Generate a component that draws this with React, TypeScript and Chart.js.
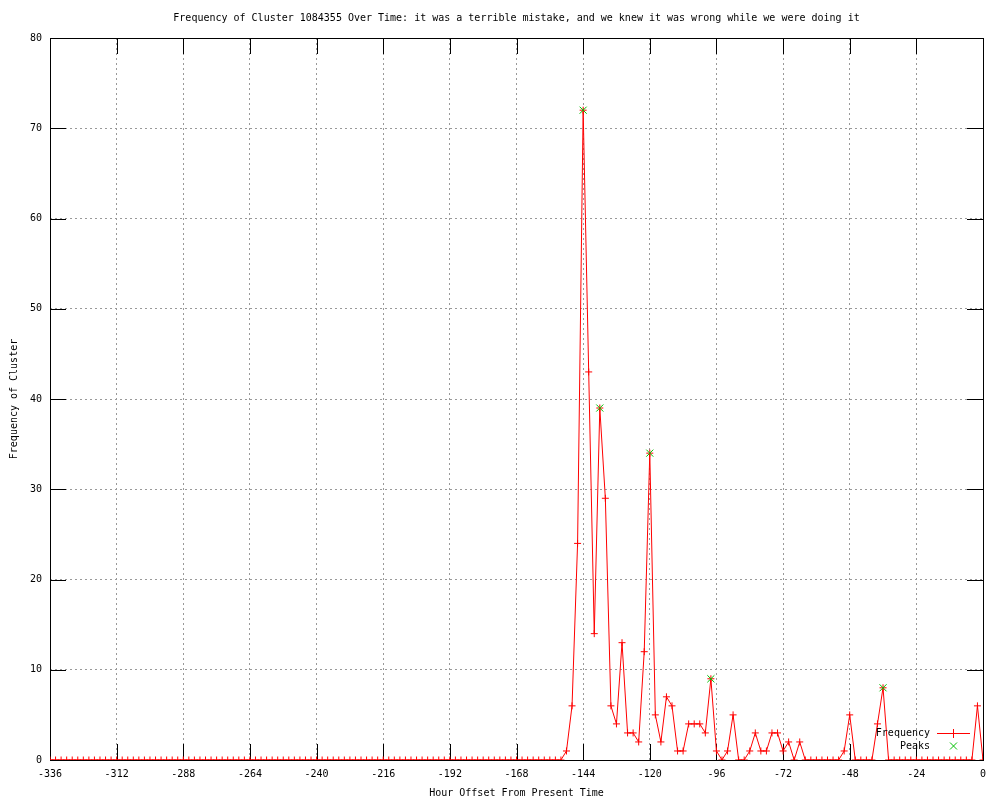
import React, { useEffect, useRef } from "react";
import { Chart, registerables } from "chart.js";

Chart.register(...registerables);

const TITLE =
  "Frequency of Cluster 1084355 Over Time: it was a terrible mistake, and we knew it was wrong while we were doing it";
const X_TITLE = "Hour Offset From Present Time";
const Y_TITLE = "Frequency of Cluster";

const hours = [
  -336, -334, -332, -330, -328, -326, -324, -322, -320, -318, -316, -314, -312, -310, -308, -306,
  -304, -302, -300, -298, -296, -294, -292, -290, -288, -286, -284, -282, -280, -278, -276, -274,
  -272, -270, -268, -266, -264, -262, -260, -258, -256, -254, -252, -250, -248, -246, -244, -242,
  -240, -238, -236, -234, -232, -230, -228, -226, -224, -222, -220, -218, -216, -214, -212, -210,
  -208, -206, -204, -202, -200, -198, -196, -194, -192, -190, -188, -186, -184, -182, -180, -178,
  -176, -174, -172, -170, -168, -166, -164, -162, -160, -158, -156, -154, -152,
  -150, -148, -146, -144, -142, -140, -138, -136, -134, -132, -130, -128, -126, -124, -122, -120,
  -118, -116, -114, -112, -110, -108, -106, -104, -102, -100, -98, -96, -94, -92, -90, -88,
  -86, -84, -82, -80, -78, -76, -74, -72, -70, -68, -66, -64, -62, -60, -58, -56,
  -54, -52, -50, -48, -46, -44, -42, -40, -38, -36, -34, -32, -30, -28, -26, -24,
  -22, -20, -18, -16, -14, -12, -10, -8, -6, -4, -2, 0,
];

const frequency = [
  0, 0, 0, 0, 0, 0, 0, 0, 0, 0, 0, 0, 0, 0, 0, 0,
  0, 0, 0, 0, 0, 0, 0, 0, 0, 0, 0, 0, 0, 0, 0, 0,
  0, 0, 0, 0, 0, 0, 0, 0, 0, 0, 0, 0, 0, 0, 0, 0,
  0, 0, 0, 0, 0, 0, 0, 0, 0, 0, 0, 0, 0, 0, 0, 0,
  0, 0, 0, 0, 0, 0, 0, 0, 0, 0, 0, 0, 0, 0, 0, 0,
  0, 0, 0, 0, 0, 0, 0, 0, 0, 0, 0, 0, 0,
  1, 6, 24, 72, 43, 14, 39, 29, 6, 4, 13, 3, 3, 2, 12, 34,
  5, 2, 7, 6, 1, 1, 4, 4, 4, 3, 9, 1, 0, 1, 5, 0,
  0, 1, 3, 1, 1, 3, 3, 1, 2, 0, 2, 0, 0, 0, 0, 0,
  0, 0, 1, 5, 0, 0, 0, 0, 4, 8, 0, 0, 0, 0, 0, 0,
  0, 0, 0, 0, 0, 0, 0, 0, 0, 0, 6, 0,
];

const peakHours = [-144, -138, -120, -98, -36];
const peakValues = [72, 39, 34, 9, 8];

const xTickValues = [-336, -312, -288, -264, -240, -216, -192, -168, -144, -120, -96, -72, -48, -24, 0];
const yTickValues = [0, 10, 20, 30, 40, 50, 60, 70, 80];

const FONT = "DejaVu Sans Mono";
const RED = "#ff0000";
const GREEN = "#00c000";

const framePlugin = {
  id: "gnuFrame",
  beforeDatasetsDraw(chart: any) {
    const { ctx, chartArea, scales } = chart;
    const { left, right, top, bottom } = chartArea;
    const x = scales.x;
    const y = scales.y;
    const L = 16;
    ctx.save();
    ctx.fillStyle = "#000";
    for (const t of xTickValues) {
      const px = Math.round(x.getPixelForValue(t));
      ctx.fillRect(px, Math.round(bottom) - L, 1, L);
      ctx.fillRect(px, Math.round(top), 1, L);
    }
    for (const t of yTickValues) {
      const py = Math.round(y.getPixelForValue(t));
      ctx.fillRect(Math.round(left), py, L, 1);
      ctx.fillRect(Math.round(right) - L, py, L, 1);
    }
    ctx.strokeStyle = "#000";
    ctx.lineWidth = 1;
    ctx.strokeRect(Math.round(left) + 0.5, Math.round(top) + 0.5, Math.round(right - left), Math.round(bottom - top));
    ctx.restore();
  },
  afterDraw(chart: any) {
    const { ctx, chartArea } = chart;
    const { left, right } = chartArea;
    ctx.save();
    ctx.font = `10px "${FONT}"`;
    ctx.fillStyle = "#000";
    ctx.textAlign = "center";
    ctx.textBaseline = "middle";
    ctx.fillText(TITLE, (left + right) / 2, 18);

    // legend (inside plot, bottom right)
    const textRight = 930;
    const rows = [
      { label: "Frequency", y: 733 },
      { label: "Peaks", y: 746 },
    ];
    ctx.textAlign = "right";
    for (const r of rows) ctx.fillText(r.label, textRight, r.y);
    // Frequency sample: red line with + marker
    ctx.fillStyle = RED;
    ctx.fillRect(937, 733, 33, 1);
    ctx.fillRect(953, 729, 1, 9);
    // Peaks sample: green x
    ctx.strokeStyle = GREEN;
    ctx.lineWidth = 1;
    ctx.beginPath();
    ctx.moveTo(950, 742.5);
    ctx.lineTo(957, 749.5);
    ctx.moveTo(957, 742.5);
    ctx.lineTo(950, 749.5);
    ctx.stroke();
    ctx.restore();
  },
};

export default function App() {
  const canvasRef = useRef<HTMLCanvasElement | null>(null);

  useEffect(() => {
    const canvas = canvasRef.current;
    if (!canvas) return;
    Chart.defaults.font.family = FONT;
    Chart.defaults.font.size = 10;
    Chart.defaults.color = "#000";

    const freqPoints = hours.map((h, i) => ({ x: h, y: frequency[i] }));
    const peakPoints = peakHours.map((h, i) => ({ x: h, y: peakValues[i] }));

    const chart = new Chart(canvas, {
      type: "line",
      data: {
        datasets: [
          {
            label: "Frequency",
            data: freqPoints,
            borderColor: RED,
            backgroundColor: RED,
            borderWidth: 1,
            tension: 0,
            fill: false,
            pointStyle: "cross",
            pointRadius: 3.5,
            pointBorderColor: RED,
            pointBorderWidth: 1,
            order: 2,
          },
          {
            label: "Peaks",
            data: peakPoints,
            showLine: false,
            borderColor: GREEN,
            backgroundColor: GREEN,
            pointStyle: "crossRot",
            pointRadius: 5,
            pointBorderColor: GREEN,
            pointBorderWidth: 1,
            order: 1,
          },
        ],
      },
      options: {
        responsive: false,
        animation: false,
        layout: { padding: { top: 38, right: 17, left: 0, bottom: 0 } },
        plugins: {
          legend: { display: false },
          title: { display: false },
          tooltip: { enabled: false },
        },
        scales: {
          x: {
            type: "linear",
            min: -336,
            max: 0,
            afterBuildTicks: (scale: any) => {
              scale.ticks = xTickValues.map((v) => ({ value: v }));
            },
            afterFit: (scale: any) => {
              scale.height = 40;
            },
            ticks: {
              padding: 8,
              maxRotation: 0,
              autoSkip: false,
              font: { family: FONT, size: 10 },
              color: "#000",
            },
            grid: {
              color: "#999999",
              lineWidth: 1,
              drawTicks: false,
            },
            border: { display: false, dash: [2, 3] },
            title: {
              display: true,
              text: X_TITLE,
              font: { family: FONT, size: 10 },
              color: "#000",
              padding: { top: 0, bottom: 1 },
            },
          },
          y: {
            type: "linear",
            min: 0,
            max: 80,
            afterBuildTicks: (scale: any) => {
              scale.ticks = yTickValues.map((v) => ({ value: v }));
            },
            afterFit: (scale: any) => {
              scale.width = 50;
            },
            ticks: {
              padding: 8,
              font: { family: FONT, size: 10 },
              color: "#000",
            },
            grid: {
              color: "#999999",
              lineWidth: 1,
              drawTicks: false,
            },
            border: { display: false, dash: [2, 3] },
            title: {
              display: true,
              text: Y_TITLE,
              font: { family: FONT, size: 10 },
              color: "#000",
              padding: { top: 8, bottom: 0 },
            },
          },
        },
      },
      plugins: [framePlugin],
    });

    return () => {
      chart.destroy();
    };
  }, []);

  return (
    <canvas
      ref={canvasRef}
      width={1000}
      height={800}
      style={{ position: "absolute", left: 0, top: 0, width: 1000, height: 800, display: "block", background: "#fff" }}
    />
  );
}
